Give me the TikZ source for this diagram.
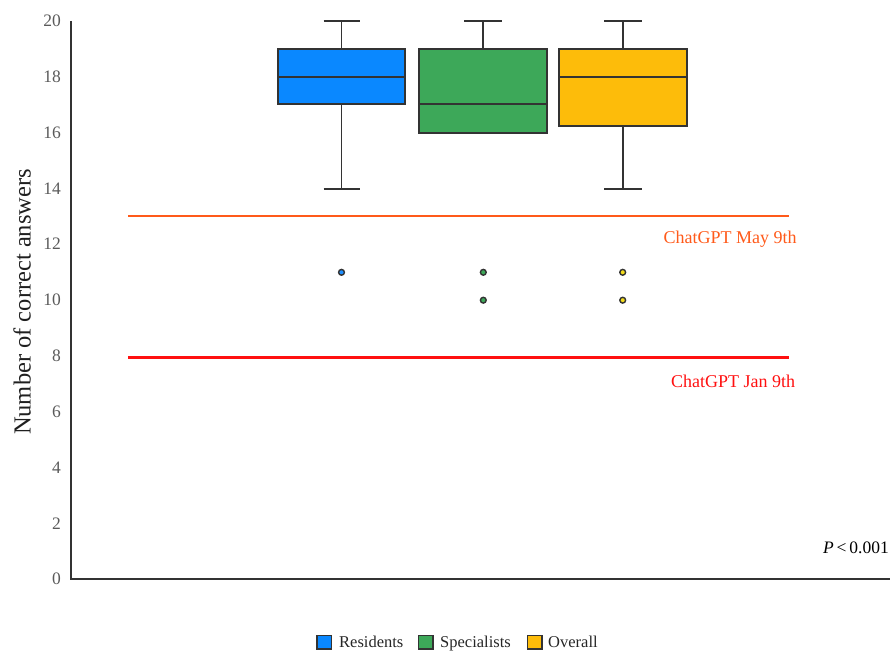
\documentclass[tikz,border=0pt]{standalone}
\usepackage{fontspec}
\setmainfont{Liberation Serif}
\definecolor{cblue}{HTML}{0A88FF}
\definecolor{cgreen}{HTML}{3DA859}
\definecolor{cyellow}{HTML}{FDBC0A}
\definecolor{dyellow}{HTML}{F3DC1C}
\definecolor{dblue}{HTML}{1E8FFF}
\definecolor{cmay}{HTML}{FF5A1A}
\definecolor{cjan}{HTML}{FF1010}
\definecolor{axisc}{HTML}{333333}
\definecolor{tickc}{HTML}{5A5A5A}
\tikzset{
  boxst/.style={draw=axisc, line width=1.8pt},
  whisk/.style={draw=axisc, line width=1.8pt},
  outl/.style={draw=axisc, line width=1.4pt},
  ticklab/.style={anchor=east, text=tickc, font=\fontsize{17.5}{20}\selectfont, inner sep=0pt},
  reflab/.style={font=\fontsize{18}{20}\selectfont, inner sep=0pt},
  leglab/.style={anchor=base west, font=\fontsize{16.5}{18}\selectfont, inner sep=0pt, text=black!85},
  legbox/.style={draw=axisc, line width=1.4pt},
}
\begin{document}
\begin{tikzpicture}[x=1pt,y=-1pt]
\useasboundingbox (0,0) rectangle (890,650);
% axes
\draw[axisc, line width=2.4pt] (71,21) coordinate (ytop) -- (71,579) coordinate (origin) -- (890,579) coordinate (xend);
% tick labels
\foreach \v in {0,2,...,20}{
  \node[ticklab] (t\v) at (61,{579-27.9*\v}) {\v};
}
\node[rotate=90, font=\fontsize{24.5}{26}\selectfont, text=black!88, inner sep=0pt] (ylab) at (22,302) {Number of correct answers};
% reference lines
\draw[cmay, line width=2.8pt] (128,216) coordinate (mayL) -- (789,216) coordinate (mayR);
\node[reflab, text=cmay] (maylab) at (730,239) {ChatGPT May 9th};
\draw[cjan, line width=2.8pt] (128,357.5) coordinate (janL) -- (789,357.5) coordinate (janR);
\node[reflab, text=cjan] (janlab) at (733,381) {ChatGPT Jan 9th};
% Residents
\draw[whisk] (341.5,20.7) -- (341.5,49);
\draw[whisk] (323.5,20.7) -- (360,20.7);
\draw[whisk] (341.5,104.3) -- (341.5,189);
\draw[whisk] (323.5,189) -- (360,189);
\draw[boxst, fill=cblue] (278.3,49) rectangle (405,104.3);
\draw[boxst] (278.3,76.7) -- (405,76.7);
% Specialists
\draw[whisk] (483.3,20.7) -- (483.3,49);
\draw[whisk] (464.3,20.7) -- (502,20.7);
\draw[boxst, fill=cgreen] (419.3,49) rectangle (546.7,133.3);
\draw[boxst] (419.3,104.3) -- (546.7,104.3);
% Overall
\draw[whisk] (622.7,20.7) -- (622.7,49);
\draw[whisk] (604,20.7) -- (641.5,20.7);
\draw[whisk] (622.7,126) -- (622.7,189);
\draw[whisk] (604,189) -- (641.5,189);
\draw[boxst, fill=cyellow] (559.3,49) rectangle (686.7,126);
\draw[boxst] (559.3,76.7) -- (686.7,76.7);
% outliers
\draw[outl, fill=dblue] (341.5,272.3) circle (2.9);
\draw[outl, fill=cgreen] (483.3,272.3) circle (2.9);
\draw[outl, fill=cgreen] (483.3,300.2) circle (2.9);
\draw[outl, fill=dyellow] (622.7,272.3) circle (2.9);
\draw[outl, fill=dyellow] (622.7,300.2) circle (2.9);
% p value
\node[anchor=east, font=\fontsize{17.5}{20}\selectfont, inner sep=0pt] (pval) at (889,548) {\textit{P}\,<\,0.001};
% legend
\draw[legbox, fill=cblue] (317,635.5) rectangle (331.5,649) ;
\node[leglab] (l1) at (339,647.5) {Residents};
\draw[legbox, fill=cgreen] (418.5,635.5) rectangle (433,649);
\node[leglab] (l2) at (440,647.5) {Specialists};
\draw[legbox, fill=cyellow] (527.5,635.5) rectangle (542,649);
\node[leglab] (l3) at (548,647.5) {Overall};
\end{tikzpicture}
\end{document}
